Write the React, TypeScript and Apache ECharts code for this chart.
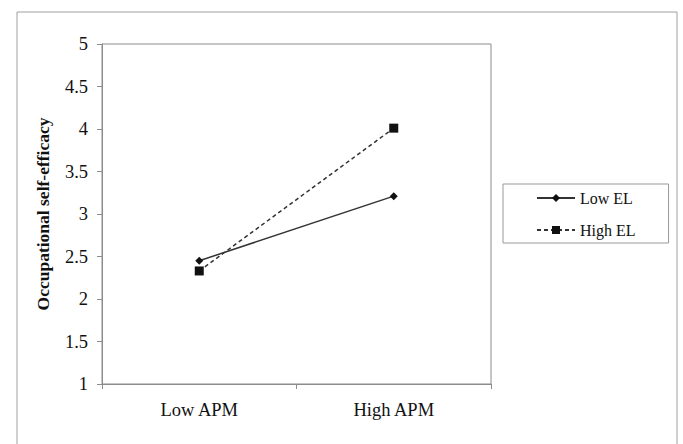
import React, { useEffect, useRef } from "react";
import * as echarts from "echarts";

const categories = ["Low APM", "High APM"];
const lowEL = [2.45, 3.21];
const highEL = [2.33, 4.01];
const seriesNames = ["Low EL", "High EL"];
const yMin = 1;
const yMax = 5;
const yStep = 0.5;
const yTitle = "Occupational self-efficacy";

export default function App() {
  const ref = useRef<HTMLDivElement>(null);
  useEffect(() => {
    if (!ref.current) return;
    const chart = echarts.init(ref.current, null, { renderer: "svg" });
    const font = "'Liberation Serif', 'Times New Roman', serif";
    const gray = "#8c8c8c";
    chart.setOption({
      animation: false,
      backgroundColor: "#ffffff",
      textStyle: { fontFamily: font },
      graphic: [
        {
          type: "rect",
          shape: { x: 17, y: 12, width: 660, height: 445 },
          style: { fill: "none", stroke: "#a0a0a0", lineWidth: 1 },
          silent: true,
        },
      ],
      grid: {
        left: 102,
        top: 44,
        width: 389,
        height: 340,
        show: true,
        borderColor: gray,
        borderWidth: 1,
        backgroundColor: "transparent",
      },
      legend: {
        orient: "vertical",
        left: 503,
        top: 184,
        padding: [6, 33, 5, 33],
        itemGap: 16,
        itemWidth: 38,
        itemHeight: 10,
        borderColor: "#999",
        borderWidth: 1,
        textStyle: { fontFamily: font, fontSize: 16, color: "#111" },
        data: seriesNames,
      },
      xAxis: {
        type: "category",
        data: categories,
        boundaryGap: true,
        axisLine: { lineStyle: { color: gray, width: 1 } },
        axisTick: { show: true, length: 5, lineStyle: { color: gray } },
        axisLabel: { fontFamily: font, fontSize: 18.5, color: "#111", margin: 16 },
        splitLine: { show: false },
      },
      yAxis: {
        type: "value",
        min: yMin,
        max: yMax,
        interval: yStep,
        name: yTitle,
        nameLocation: "middle",
        nameGap: 50,
        nameRotate: 90,
        nameTextStyle: { fontFamily: font, fontSize: 17.5, fontWeight: "bold", color: "#111" },
        axisLine: { show: true, lineStyle: { color: gray, width: 1 } },
        axisTick: { show: true, length: 5, lineStyle: { color: gray } },
        axisLabel: { fontFamily: font, fontSize: 18.5, color: "#111", margin: 14 },
        splitLine: { show: false },
      },
      series: [
        {
          name: seriesNames[0],
          type: "line",
          data: lowEL,
          symbol: "diamond",
          symbolSize: 8,
          itemStyle: { color: "#111" },
          lineStyle: { color: "#333", width: 1.5, type: "solid" },
        },
        {
          name: seriesNames[1],
          type: "line",
          data: highEL,
          symbol: "rect",
          symbolSize: 9,
          itemStyle: { color: "#111" },
          lineStyle: { color: "#333", width: 1.5, type: [4, 3] },
        },
      ],
    });
    return () => chart.dispose();
  }, []);
  return (
    <div
      ref={ref}
      style={{ position: "fixed", left: 0, top: 0, width: 683, height: 444 }}
    />
  );
}
